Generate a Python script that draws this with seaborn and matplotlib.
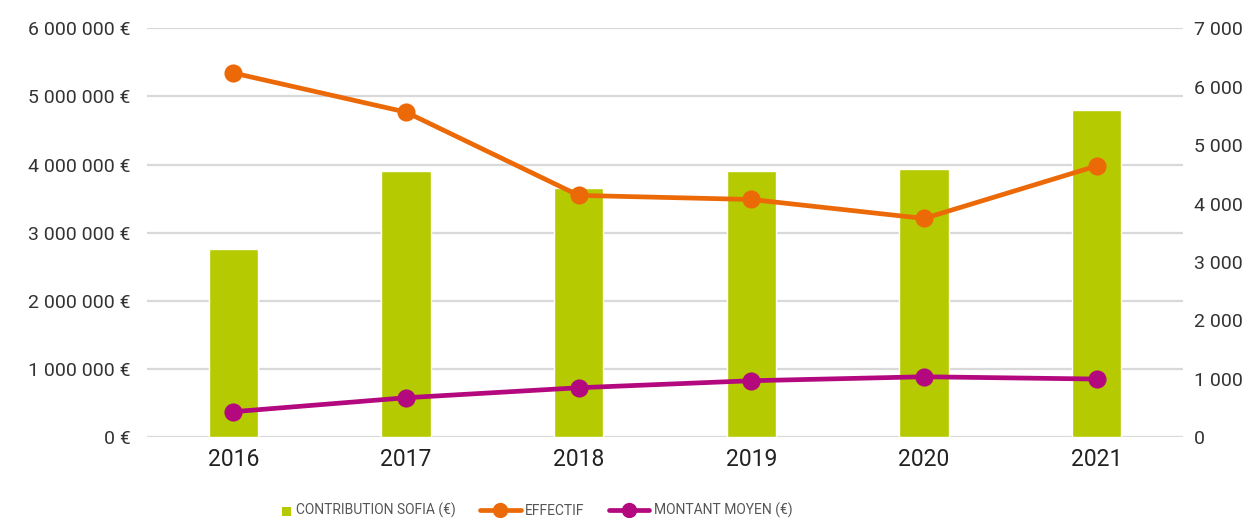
import numpy as np
import pandas as pd
import seaborn as sns
import matplotlib.pyplot as plt
from matplotlib.lines import Line2D
from matplotlib.patches import Rectangle
from matplotlib.legend_handler import HandlerBase
from matplotlib.ticker import FuncFormatter

# --- data ---
years = ["2016", "2017", "2018", "2019", "2020", "2021"]
contribution = [2760000, 3900000, 3650000, 3900000, 3940000, 4800000]
effectif = [6235, 5565, 4140, 4070, 3745, 4645]
montant_moyen = [438, 677, 848, 968, 1036, 997]

legend_labels = ["CONTRIBUTION SOFIA (€)", "EFFECTIF", "MONTANT MOYEN (€)"]

# --- style ---
green = "#B5CA00"
orange = "#EC6907"
magenta = "#B3087E"
txt = "#333333"

sns.set_theme(style="white")
plt.rcParams["font.family"] = ["Roboto", "DejaVu Sans"]

df = pd.DataFrame({"year": years, "contribution": contribution,
                   "effectif": effectif, "montant": montant_moyen})

fig = plt.figure(figsize=(12.48, 5.18), dpi=100)
ax1 = fig.add_axes([0.1178, 0.1558, 0.8302, 0.7896])
ax2 = ax1.twinx()

# bars on the left axis
sns.barplot(data=df, x="year", y="contribution", color=green, saturation=1,
            width=0.285, ax=ax1, zorder=2)

# lines on the right axis
for col, c in [("effectif", orange), ("montant", magenta)]:
    sns.pointplot(data=df, x="year", y=col, color=c, errorbar=None,
                  markers="o", markersize=10.5, linewidth=3.4, ax=ax2)

# --- axes formatting ---
ax1.set_ylim(0, 6000000)
ax1.set_yticks(np.arange(0, 6000001, 1000000))
ax1.yaxis.set_major_formatter(FuncFormatter(lambda v, p: f"{int(v):,}".replace(",", " ") + " €"))
ax2.set_ylim(0, 7000)
ax2.set_yticks(np.arange(0, 7001, 1000))
ax2.yaxis.set_major_formatter(FuncFormatter(lambda v, p: f"{int(v):,}".replace(",", " ")))
ax1.set_xlim(-0.5, 5.5)
ax2.set_xlim(-0.5, 5.5)

ax1.set_axisbelow(True)
ax1.yaxis.grid(True, color="#d9d9d9", linewidth=1.6)
ax2.grid(False)

for ax in (ax1, ax2):
    for s in ax.spines.values():
        s.set_visible(False)
    ax.set_xlabel("")
    ax.set_ylabel("")
    ax.tick_params(length=0)

ax1.tick_params(axis="y", labelsize=14, labelcolor=txt, pad=12)
ax2.tick_params(axis="y", labelsize=14, labelcolor=txt, pad=8)
ax1.tick_params(axis="x", labelsize=16.5, labelcolor="#222222", pad=8)


# small square sitting right next to its label
class SquareHandler(HandlerBase):
    def create_artists(self, legend, orig_handle, xdescent, ydescent,
                       width, height, fontsize, trans):
        s = 0.68 * fontsize
        r = Rectangle((width - s - xdescent, (height - s) / 2 - ydescent - 1), s, s,
                      facecolor=orig_handle.get_facecolor(), edgecolor="none",
                      transform=trans)
        return [r]


# --- legend ---
handles = [
    Rectangle((0, 0), 1, 1, facecolor=green),
    Line2D([], [], color=orange, linewidth=3.4, marker="o", markersize=10),
    Line2D([], [], color=magenta, linewidth=3.4, marker="o", markersize=10),
]
fig.legend(handles, legend_labels, loc="center", bbox_to_anchor=(0.418, 0.014),
           ncol=3, frameon=False, handlelength=2.9, handletextpad=0.3, columnspacing=1.8,
           handler_map={Rectangle: SquareHandler()},
           prop={"size": 10}, labelcolor="#555555")

plt.savefig("out.png", dpi=100)
